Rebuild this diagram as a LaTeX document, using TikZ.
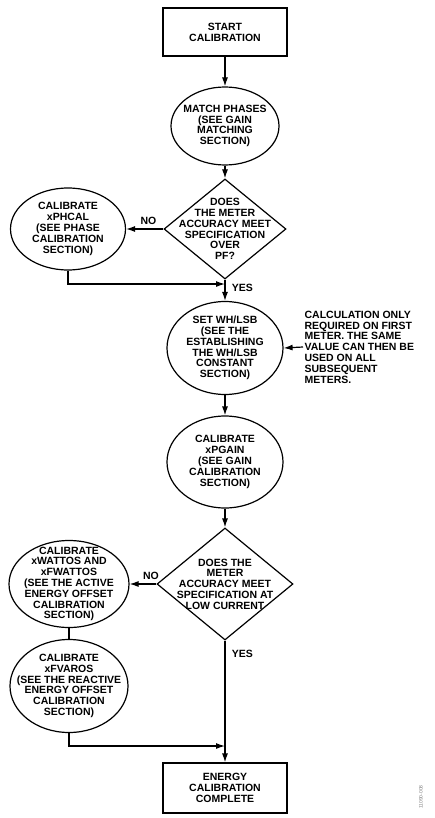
\documentclass[tikz,border=0pt]{standalone}
\usepackage{fontspec}
\setmainfont{Liberation Sans}
\usetikzlibrary{shapes.geometric,arrows.meta}

\begin{document}
\begin{tikzpicture}[x=1pt, y=-1pt, line width=1.2pt,
    font=\fontsize{10.5}{10.8}\selectfont\bfseries,
    txt/.style={align=center, inner sep=0pt},
    arr/.style={-{Latex[length=9pt,width=6pt]}},
    boxnode/.style={draw, rectangle, minimum width=124pt, minimum height=#1, inner sep=0pt, align=center},
    ovalnode/.style={draw, ellipse, inner sep=0pt},
    decide/.style={draw, diamond, inner sep=0pt}]
    \useasboundingbox (0,0) rectangle (435,818);
    % main column
    \node[boxnode=48pt] (start) at (225,32) {START\\CALIBRATION};
    \node[ovalnode, minimum width=108pt, minimum height=78pt,
        label={[txt]center:{MATCH PHASES\\(SEE GAIN\\MATCHING\\SECTION)}}] (match) at (225,126) {};
    \node[decide, minimum width=122pt, minimum height=100pt,
        label={[txt]center:{DOES\\THE METER\\ACCURACY MEET\\SPECIFICATION\\OVER\\PF?}}] (pf) at (225,229) {};
    \node[ovalnode, minimum width=116pt, minimum height=93pt,
        label={[txt]center:{SET WH/LSB\\(SEE THE\\ESTABLISHING\\THE WH/LSB\\CONSTANT\\SECTION)}}] (setwh) at (225,348) {};
    \node[ovalnode, minimum width=116pt, minimum height=92pt,
        label={[txt]center:{CALIBRATE\\xPGAIN\\(SEE GAIN\\CALIBRATION\\SECTION)}}] (pgain) at (225,462) {};
    \node[decide, minimum width=136pt, minimum height=112pt,
        label={[txt]center:{DOES THE\\METER\\ACCURACY MEET\\SPECIFICATION AT\\LOW CURRENT}}] (lowacc) at (225,584) {};
    \node[boxnode=50pt] (done) at (225,788) {ENERGY\\CALIBRATION\\COMPLETE};
    % left column
    \node[ovalnode, minimum width=115pt, minimum height=82pt,
        label={[txt]center:{CALIBRATE\\xPHCAL\\(SEE PHASE\\CALIBRATION\\SECTION)}}] (phcal) at (68,229) {};
    \node[ovalnode, minimum width=120pt, minimum height=87pt,
        label={[txt]center:{CALIBRATE\\xWATTOS AND\\xFWATTOS\\(SEE THE ACTIVE\\ENERGY OFFSET\\CALIBRATION\\SECTION)}}] (watt) at (69,584) {};
    \node[ovalnode, minimum width=118pt, minimum height=93pt,
        label={[txt]center:{CALIBRATE\\xFVAROS\\(SEE THE REACTIVE\\ENERGY OFFSET\\CALIBRATION\\SECTION)}}] (varos) at (69,686) {};
    % side note
    \node[anchor=west, align=left, inner sep=1pt] (note) at (303,347)
        {CALCULATION ONLY\\REQUIRED ON FIRST\\METER. THE SAME\\VALUE CAN THEN BE\\USED ON ALL\\SUBSEQUENT\\METERS.};
    \node[rotate=90, font=\fontsize{5}{5}\selectfont, text=gray] (code) at (421,797) {11090-008};
    % connectors
    \coordinate (j1) at (225,284);
    \coordinate (j2) at (225,746);
    \draw[arr] (start) -- (match);
    \draw[arr] (match) -- (pf);
    \draw[arr] (pf.west) -- node[above, pos=0.4] (no1) {NO} (phcal.east);
    \draw[arr] (phcal.south) |- (j1);
    \draw[arr] (pf.south) -- (setwh.north);
    \node[anchor=west] (yes1) at (228,288) {YES};
    \draw[arr] (note.west) -- (setwh.east);
    \draw[arr] (setwh) -- (pgain);
    \draw[arr] (pgain) -- (lowacc);
    \draw[arr] (lowacc.west) -- node[above, pos=0.2] (no2) {NO} (watt.east);
    \draw (watt.south) -- (varos.north);
    \draw[arr] (varos.south) |- (j2);
    \draw[arr] (lowacc.south) -- (done.north);
    \node[anchor=west] (yes2) at (228,654) {YES};
\end{tikzpicture}
\end{document}
